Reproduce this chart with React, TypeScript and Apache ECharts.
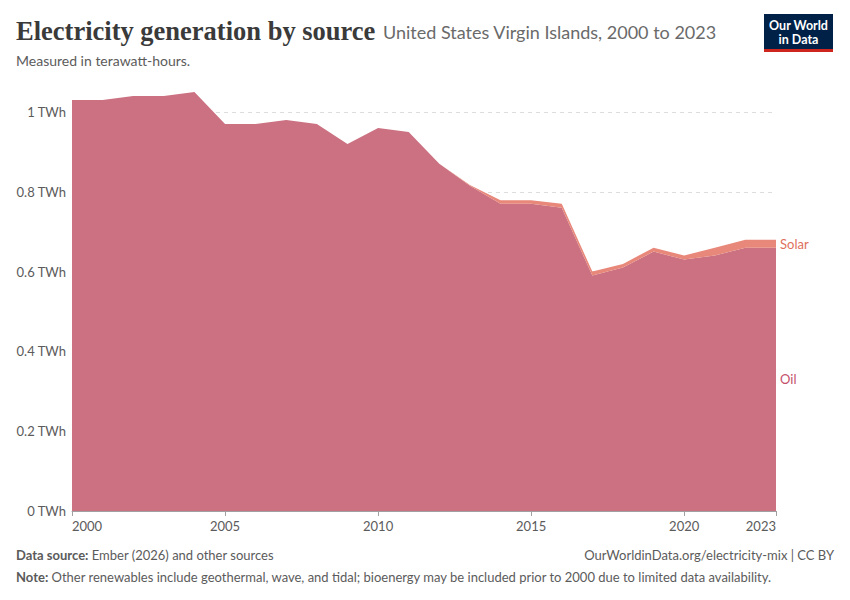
import { useEffect, useRef } from 'react'
import * as echarts from 'echarts'

const YEARS = [
  '2000', '2001', '2002', '2003', '2004', '2005', '2006', '2007', '2008', '2009', '2010', '2011',
  '2012', '2013', '2014', '2015', '2016', '2017', '2018', '2019', '2020', '2021', '2022', '2023',
]

const OIL = [
  1.03, 1.03, 1.04, 1.04, 1.05, 0.97, 0.97, 0.98, 0.97, 0.92, 0.96, 0.95,
  0.87, 0.815, 0.77, 0.77, 0.76, 0.59, 0.61, 0.65, 0.63, 0.64, 0.66, 0.66,
]

const SOLAR = [
  0, 0, 0, 0, 0, 0, 0, 0, 0, 0, 0, 0,
  0, 0.002, 0.009, 0.009, 0.01, 0.01, 0.009, 0.01, 0.01, 0.02, 0.02, 0.02,
]

const X_LABEL_YEARS = ['2000', '2005', '2010', '2015', '2020', '2023']

const OIL_COLOR = '#cb7181'
const SOLAR_COLOR = '#e8887a'
const TEXT_GREY = '#5b5b5b'
const FONT = 'Lato, sans-serif'

export default function App() {
  const chartRef = useRef<HTMLDivElement>(null)

  useEffect(() => {
    document.body.style.margin = '0'
    if (!chartRef.current) return
    const chart = echarts.init(chartRef.current, undefined, { renderer: 'svg' })

    const showLabel = (i: number) => X_LABEL_YEARS.includes(YEARS[i])

    const option: echarts.EChartsOption = {
      animation: false,
      backgroundColor: '#ffffff',
      grid: { left: 72, right: 74, top: 92, bottom: 89 },
      xAxis: {
        type: 'category',
        data: YEARS,
        boundaryGap: false,
        axisLine: { lineStyle: { color: '#a0a0a0' } },
        axisTick: { show: true, interval: showLabel, length: 5, lineStyle: { color: '#a0a0a0' } },
        axisLabel: {
          interval: showLabel,
          color: TEXT_GREY,
          fontSize: 13,
          fontFamily: FONT,
          margin: 8,
          alignMinLabel: 'left',
          alignMaxLabel: 'right',
        } as any,
        splitLine: { show: false },
      },
      yAxis: {
        type: 'value',
        min: 0,
        max: 1.05,
        interval: 0.2,
        axisLine: { show: false },
        axisTick: { show: false },
        axisLabel: {
          color: TEXT_GREY,
          fontSize: 13,
          fontFamily: FONT,
          margin: 6,
          formatter: (v: number) => {
            const k = Math.round(v * 5)
            if (Math.abs(v * 5 - k) > 1e-6) return ''
            return `${+(k / 5).toFixed(1)} TWh`
          },
        },
        splitLine: {
          show: true,
          showMaxLine: false,
          lineStyle: {
            type: [4, 4],
            color: ['#dddddd', '#dddddd', '#dddddd', '#dddddd', '#dddddd', '#dddddd', 'rgba(0,0,0,0)'],
          },
        } as any,
      },
      series: [
        {
          name: 'Oil',
          type: 'line',
          stack: 'total',
          data: OIL,
          symbol: 'none',
          lineStyle: { width: 0 },
          areaStyle: { color: OIL_COLOR, opacity: 1 },
        },
        {
          name: 'Solar',
          type: 'line',
          stack: 'total',
          data: SOLAR,
          symbol: 'none',
          lineStyle: { width: 0 },
          areaStyle: { color: SOLAR_COLOR, opacity: 1 },
          endLabel: {
            show: true,
            formatter: 'Solar',
            color: '#e0705c',
            fontSize: 13,
            fontFamily: FONT,
            distance: 4,
            offset: [0, 4],
          },
        },
      ],
      graphic: [
        {
          type: 'text',
          left: 16,
          top: 17,
          style: {
            text: 'Electricity generation by source',
            fontFamily: '"Liberation Serif", serif',
            fontSize: 26.5,
            fontWeight: 'bold',
            fill: '#3a3a3a',
          },
        },
        {
          type: 'text',
          left: 383,
          top: 23,
          style: {
            text: 'United States Virgin Islands, 2000 to 2023',
            fontFamily: FONT,
            fontSize: 18,
            fill: '#6a6a6a',
          },
        },
        {
          type: 'text',
          left: 16,
          top: 53,
          style: {
            text: 'Measured in terawatt-hours.',
            fontFamily: FONT,
            fontSize: 14,
            fill: TEXT_GREY,
          },
        },
        {
          type: 'group',
          left: 764,
          top: 14,
          children: [
            { type: 'rect', shape: { x: 0, y: 0, width: 69, height: 38 }, style: { fill: '#002147' } },
            { type: 'rect', shape: { x: 0, y: 35, width: 69, height: 3 }, style: { fill: '#ce261e' } },
            {
              type: 'text',
              x: 34.5,
              y: 5,
              style: {
                text: 'Our World',
                fontFamily: FONT,
                fontSize: 12.5,
                fontWeight: 'bold',
                fill: '#ffffff',
                align: 'center',
              },
            },
            {
              type: 'text',
              x: 34.5,
              y: 19,
              style: {
                text: 'in Data',
                fontFamily: FONT,
                fontSize: 12.5,
                fontWeight: 'bold',
                fill: '#ffffff',
                align: 'center',
              },
            },
          ],
        },
        {
          type: 'text',
          left: 16,
          top: 548,
          style: {
            text: '{b|Data source:} Ember (2026) and other sources',
            rich: {
              b: { fontFamily: FONT, fontSize: 13, fontWeight: 'bold', fill: TEXT_GREY },
            },
            fontFamily: FONT,
            fontSize: 13,
            fill: TEXT_GREY,
          },
        },
        {
          type: 'text',
          right: 16,
          top: 548,
          style: {
            text: 'OurWorldinData.org/electricity-mix | CC BY',
            fontFamily: FONT,
            fontSize: 13,
            fill: TEXT_GREY,
          },
        },
        {
          type: 'text',
          left: 16,
          top: 570,
          style: {
            text: '{b|Note:} Other renewables include geothermal, wave, and tidal; bioenergy may be included prior to 2000 due to limited data availability.',
            rich: {
              b: { fontFamily: FONT, fontSize: 13, fontWeight: 'bold', fill: TEXT_GREY },
            },
            fontFamily: FONT,
            fontSize: 13,
            fill: TEXT_GREY,
          },
        },
      ],
    }

    chart.setOption(option)

    // place the "Oil" label halfway up the last oil value
    const last = OIL.length - 1
    const pt = chart.convertToPixel({ gridIndex: 0 }, [last, OIL[last] / 2]) as number[]
    chart.setOption({
      graphic: [
        {
          id: 'oilLabel',
          type: 'text',
          x: pt[0] + 4,
          y: pt[1],
          style: {
            text: 'Oil',
            fontFamily: FONT,
            fontSize: 13,
            fill: '#c4506a',
            verticalAlign: 'middle',
          },
        },
      ],
    })

    return () => chart.dispose()
  }, [])

  return <div ref={chartRef} style={{ width: 850, height: 600 }} />
}
